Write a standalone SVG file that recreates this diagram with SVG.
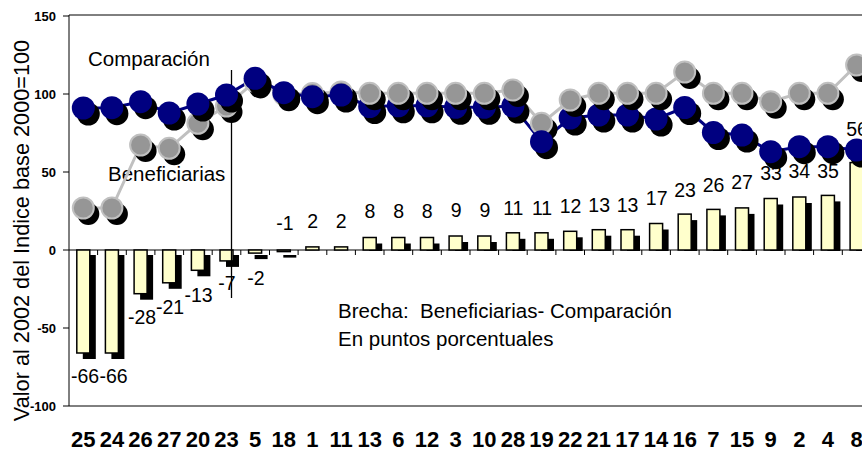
<svg xmlns="http://www.w3.org/2000/svg" width="862" height="451" viewBox="0 0 862 451">
<style>
.ax{stroke:#000;stroke-width:1;fill:none}
.yt{font-family:"Liberation Sans",Arial,sans-serif;font-weight:bold;font-size:13px;text-anchor:end}
.xt{font-family:"Liberation Sans",Arial,sans-serif;font-weight:bold;font-size:22px;text-anchor:middle}
.dl{font-family:"Liberation Sans",Arial,sans-serif;font-size:19.5px;text-anchor:middle;fill:#000}
.lb{font-family:"Liberation Sans",Arial,sans-serif;font-size:20.5px;fill:#000}
.bar{fill:#FFFFCC;stroke:#000;stroke-width:1.5}
.bs{fill:#000}
.sh{fill:#000}
.nv{fill:#000080}
.gr{fill:#969696;stroke:#C0C0C0;stroke-width:2}
.lnv{fill:none;stroke:#000080;stroke-width:3}
.lgr{fill:none;stroke:#C0C0C0;stroke-width:3}
</style>
<rect width="862" height="451" fill="#fff"/>
<g id="axes">
<path class="ax" d="M69 15H862M69 15V406H862M63 16H69M63 94H69M63 172H69M63 250H69M63 328H69M63 406H69M69 250H862"/>
<path class="ax" d="M97.6 250v5M126.3 250v5M154.9 250v5M183.6 250v5M212.2 250v5M240.8 250v5M269.5 250v5M298.1 250v5M326.8 250v5M355.4 250v5M384 250v5M412.7 250v5M441.3 250v5M470 250v5M498.6 250v5M527.2 250v5M555.9 250v5M584.5 250v5M613.2 250v5M641.8 250v5M670.4 250v5M699.1 250v5M727.7 250v5M756.4 250v5M785 250v5M813.6 250v5M842.3 250v5"/>
<text class="yt" x="56" y="20.5">150</text>
<text class="yt" x="56" y="98.5">100</text>
<text class="yt" x="56" y="176.5">50</text>
<text class="yt" x="56" y="254.5">0</text>
<text class="yt" x="56" y="332.5">-50</text>
<text class="yt" x="56" y="410.5">-100</text>
<text class="lb" style="font-size:21.7px" text-anchor="middle" transform="translate(28.5,230.5) rotate(-90)">Valor al 2002 del Indice base 2000=100</text>
</g>
<g id="x-labels">
<text class="xt" x="83.3" y="446.5">25</text>
<text class="xt" x="111.9" y="446.5">24</text>
<text class="xt" x="140.6" y="446.5">26</text>
<text class="xt" x="169.2" y="446.5">27</text>
<text class="xt" x="197.9" y="446.5">20</text>
<text class="xt" x="226.5" y="446.5">23</text>
<text class="xt" x="255.1" y="446.5">5</text>
<text class="xt" x="283.8" y="446.5">18</text>
<text class="xt" x="312.4" y="446.5">1</text>
<text class="xt" x="341.1" y="446.5">11</text>
<text class="xt" x="369.7" y="446.5">13</text>
<text class="xt" x="398.3" y="446.5">6</text>
<text class="xt" x="427" y="446.5">12</text>
<text class="xt" x="455.6" y="446.5">3</text>
<text class="xt" x="484.3" y="446.5">10</text>
<text class="xt" x="512.9" y="446.5">28</text>
<text class="xt" x="541.5" y="446.5">19</text>
<text class="xt" x="570.2" y="446.5">22</text>
<text class="xt" x="598.8" y="446.5">21</text>
<text class="xt" x="627.5" y="446.5">17</text>
<text class="xt" x="656.1" y="446.5">14</text>
<text class="xt" x="684.7" y="446.5">16</text>
<text class="xt" x="713.4" y="446.5">7</text>
<text class="xt" x="742" y="446.5">15</text>
<text class="xt" x="770.7" y="446.5">9</text>
<text class="xt" x="799.3" y="446.5">2</text>
<text class="xt" x="827.9" y="446.5">4</text>
<text class="xt" x="856.6" y="446.5">8</text>
</g>
<g id="bars">
<rect class="bs" x="82.8" y="255" width="13" height="104"/><rect class="bar" x="76.8" y="250" width="13" height="103"/>
<rect class="bs" x="111.4" y="255" width="13" height="104"/><rect class="bar" x="105.4" y="250" width="13" height="103"/>
<rect class="bs" x="140.1" y="255" width="13" height="44.7"/><rect class="bar" x="134.1" y="250" width="13" height="43.7"/>
<rect class="bs" x="168.7" y="255" width="13" height="33.8"/><rect class="bar" x="162.7" y="250" width="13" height="32.8"/>
<rect class="bs" x="197.4" y="255" width="13" height="21.3"/><rect class="bar" x="191.4" y="250" width="13" height="20.3"/>
<rect class="bs" x="226" y="255" width="13" height="11.9"/><rect class="bar" x="220" y="250" width="13" height="10.9"/>
<rect class="bs" x="254.6" y="255" width="13" height="4.1"/><rect class="bar" x="248.6" y="250" width="13" height="3.1"/>
<rect class="bs" x="283.3" y="255" width="13" height="2.6"/><rect class="bar" x="277.3" y="250" width="13" height="1.6"/>
<rect class="bar" x="305.9" y="246.9" width="13" height="3.1"/>
<rect class="bar" x="334.6" y="246.9" width="13" height="3.1"/>
<rect class="bs" x="369.2" y="243.5" width="13" height="7.5"/><rect class="bar" x="363.2" y="237.5" width="13" height="12.5"/>
<rect class="bs" x="397.8" y="243.5" width="13" height="7.5"/><rect class="bar" x="391.8" y="237.5" width="13" height="12.5"/>
<rect class="bs" x="426.5" y="243.5" width="13" height="7.5"/><rect class="bar" x="420.5" y="237.5" width="13" height="12.5"/>
<rect class="bs" x="455.1" y="242" width="13" height="9"/><rect class="bar" x="449.1" y="236" width="13" height="14"/>
<rect class="bs" x="483.8" y="242" width="13" height="9"/><rect class="bar" x="477.8" y="236" width="13" height="14"/>
<rect class="bs" x="512.4" y="238.8" width="13" height="12.2"/><rect class="bar" x="506.4" y="232.8" width="13" height="17.2"/>
<rect class="bs" x="541" y="238.8" width="13" height="12.2"/><rect class="bar" x="535" y="232.8" width="13" height="17.2"/>
<rect class="bs" x="569.7" y="237.3" width="13" height="13.7"/><rect class="bar" x="563.7" y="231.3" width="13" height="18.7"/>
<rect class="bs" x="598.3" y="235.7" width="13" height="15.3"/><rect class="bar" x="592.3" y="229.7" width="13" height="20.3"/>
<rect class="bs" x="627" y="235.7" width="13" height="15.3"/><rect class="bar" x="621" y="229.7" width="13" height="20.3"/>
<rect class="bs" x="655.6" y="229.5" width="13" height="21.5"/><rect class="bar" x="649.6" y="223.5" width="13" height="26.5"/>
<rect class="bs" x="684.2" y="220.1" width="13" height="30.9"/><rect class="bar" x="678.2" y="214.1" width="13" height="35.9"/>
<rect class="bs" x="712.9" y="215.4" width="13" height="35.6"/><rect class="bar" x="706.9" y="209.4" width="13" height="40.6"/>
<rect class="bs" x="741.5" y="213.9" width="13" height="37.1"/><rect class="bar" x="735.5" y="207.9" width="13" height="42.1"/>
<rect class="bs" x="770.2" y="204.5" width="13" height="46.5"/><rect class="bar" x="764.2" y="198.5" width="13" height="51.5"/>
<rect class="bs" x="798.8" y="203" width="13" height="48"/><rect class="bar" x="792.8" y="197" width="13" height="53"/>
<rect class="bs" x="827.4" y="201.4" width="13" height="49.6"/><rect class="bar" x="821.4" y="195.4" width="13" height="54.6"/>
<rect class="bs" x="856.1" y="168.6" width="13" height="82.4"/><rect class="bar" x="850.1" y="162.6" width="13" height="87.4"/>
</g>
<g id="data-labels">
<text class="dl" x="85" y="383">-66</text>
<text class="dl" x="113.5" y="383">-66</text>
<text class="dl" x="142" y="324">-28</text>
<text class="dl" x="170" y="314">-21</text>
<text class="dl" x="198.5" y="302">-13</text>
<text class="dl" x="227" y="290">-7</text>
<text class="dl" x="256" y="285">-2</text>
<text class="dl" x="285" y="230">-1</text>
<text class="dl" x="312.7" y="228">2</text>
<text class="dl" x="341.3" y="228">2</text>
<text class="dl" x="370" y="218">8</text>
<text class="dl" x="398.6" y="218">8</text>
<text class="dl" x="427.2" y="218">8</text>
<text class="dl" x="456.3" y="217">9</text>
<text class="dl" x="485" y="217">9</text>
<text class="dl" x="513.3" y="215">11</text>
<text class="dl" x="542" y="215">11</text>
<text class="dl" x="570.5" y="213">12</text>
<text class="dl" x="599.2" y="212">13</text>
<text class="dl" x="627.6" y="212">13</text>
<text class="dl" x="656.7" y="205">17</text>
<text class="dl" x="685" y="197">23</text>
<text class="dl" x="713.5" y="192">26</text>
<text class="dl" x="742" y="189">27</text>
<text class="dl" x="771" y="180">33</text>
<text class="dl" x="799.3" y="178">34</text>
<text class="dl" x="828" y="178">35</text>
<text class="dl" x="857" y="136">56</text>
</g>
<g id="labels">
<text class="lb" x="88" y="66">Comparación</text>
<text class="lb" x="108" y="181">Beneficiarias</text>
<text class="lb" x="338" y="318" xml:space="preserve">Brecha:  Beneficiarias- Comparación</text>
<text class="lb" x="338" y="346">En puntos porcentuales</text>
</g>
<g id="connectors">
<line x1="231.5" y1="70" x2="231.5" y2="298" stroke="#000" stroke-width="1.3"/>
<polyline class="lgr" points="83.3,208 111.9,208 140.6,145 169.2,148.3 197.9,123.3 226.5,106 255.1,81.4 283.8,94.3 312.4,93.6 341.1,91.9 369.7,93.3 398.3,93.3 427,93.3 455.6,93.3 484.3,93.3 512.9,90 541.5,123.3 570.2,100 598.8,93.3 627.5,93.3 656.1,93.3 684.7,72 713.4,93.3 742,93.3 770.7,101.7 799.3,93.3 827.9,93.3 856.6,65"/>
<polyline class="lnv" points="83.3,108 111.9,107.7 140.6,101.7 169.2,113 197.9,104 226.5,95 255.1,78.3 283.8,92.7 312.4,96.7 341.1,95 369.7,106.5 398.3,105.8 427,105.8 455.6,107.3 484.3,107.3 512.9,106 541.5,141.7 570.2,118 598.8,115 627.5,115 656.1,119 684.7,107.5 713.4,132.5 742,135 770.7,151.7 799.3,146.7 827.9,146.7 856.6,150"/>
</g>
<g id="markers">
<defs>
<circle id="sg" r="11" cx="5" cy="6" fill="#000"/>
<circle id="cg" r="10.5" class="gr"/>
<circle id="sn" r="11.5" cx="5" cy="6" fill="#000"/>
<circle id="cn" r="11.5" class="nv"/>
</defs>
<!-- cats 0-9: gray then navy on top -->
<g transform="translate(83.3,208)"><use href="#sg"/><use href="#cg"/></g><g transform="translate(83.3,108)"><use href="#sn"/><use href="#cn"/></g>
<g transform="translate(111.9,208)"><use href="#sg"/><use href="#cg"/></g><g transform="translate(111.9,107.7)"><use href="#sn"/><use href="#cn"/></g>
<g transform="translate(140.6,145)"><use href="#sg"/><use href="#cg"/></g><g transform="translate(140.6,101.7)"><use href="#sn"/><use href="#cn"/></g>
<g transform="translate(169.2,148.3)"><use href="#sg"/><use href="#cg"/></g><g transform="translate(169.2,113)"><use href="#sn"/><use href="#cn"/></g>
<g transform="translate(197.9,123.3)"><use href="#sg"/><use href="#cg"/></g><g transform="translate(197.9,104)"><use href="#sn"/><use href="#cn"/></g>
<g transform="translate(226.5,106)"><use href="#sg"/><use href="#cg"/></g><g transform="translate(226.5,95)"><use href="#sn"/><use href="#cn"/></g>
<g transform="translate(255.1,81.4)"><use href="#sg"/><use href="#cg"/></g><g transform="translate(255.1,78.3)"><use href="#sn"/><use href="#cn"/></g>
<g transform="translate(283.8,94.3)"><use href="#sg"/><use href="#cg"/></g><g transform="translate(283.8,92.7)"><use href="#sn"/><use href="#cn"/></g>
<g transform="translate(312.4,93.6)"><use href="#sg"/><use href="#cg"/></g><g transform="translate(312.4,96.7)"><use href="#sn"/><use href="#cn"/></g>
<g transform="translate(341.1,91.9)"><use href="#sg"/><use href="#cg"/></g><g transform="translate(341.1,95)"><use href="#sn"/><use href="#cn"/></g>
<!-- cats 10-27: navy then gray on top -->
<g transform="translate(369.7,106.5)"><use href="#sn"/><use href="#cn"/></g><g transform="translate(369.7,93.3)"><use href="#sg"/><use href="#cg"/></g>
<g transform="translate(398.3,105.8)"><use href="#sn"/><use href="#cn"/></g><g transform="translate(398.3,93.3)"><use href="#sg"/><use href="#cg"/></g>
<g transform="translate(427,105.8)"><use href="#sn"/><use href="#cn"/></g><g transform="translate(427,93.3)"><use href="#sg"/><use href="#cg"/></g>
<g transform="translate(455.6,107.3)"><use href="#sn"/><use href="#cn"/></g><g transform="translate(455.6,93.3)"><use href="#sg"/><use href="#cg"/></g>
<g transform="translate(484.3,107.3)"><use href="#sn"/><use href="#cn"/></g><g transform="translate(484.3,93.3)"><use href="#sg"/><use href="#cg"/></g>
<g transform="translate(512.9,106)"><use href="#sn"/><use href="#cn"/></g><g transform="translate(512.9,90)"><use href="#sg"/><use href="#cg"/></g>
<g transform="translate(541.5,123.3)"><use href="#sg"/><use href="#cg"/></g><g transform="translate(541.5,141.7)"><use href="#sn"/><use href="#cn"/></g>
<g transform="translate(570.2,118)"><use href="#sn"/><use href="#cn"/></g><g transform="translate(570.2,100)"><use href="#sg"/><use href="#cg"/></g>
<g transform="translate(598.8,115)"><use href="#sn"/><use href="#cn"/></g><g transform="translate(598.8,93.3)"><use href="#sg"/><use href="#cg"/></g>
<g transform="translate(627.5,115)"><use href="#sn"/><use href="#cn"/></g><g transform="translate(627.5,93.3)"><use href="#sg"/><use href="#cg"/></g>
<g transform="translate(656.1,119)"><use href="#sn"/><use href="#cn"/></g><g transform="translate(656.1,93.3)"><use href="#sg"/><use href="#cg"/></g>
<g transform="translate(684.7,107.5)"><use href="#sn"/><use href="#cn"/></g><g transform="translate(684.7,72)"><use href="#sg"/><use href="#cg"/></g>
<g transform="translate(713.4,132.5)"><use href="#sn"/><use href="#cn"/></g><g transform="translate(713.4,93.3)"><use href="#sg"/><use href="#cg"/></g>
<g transform="translate(742,135)"><use href="#sn"/><use href="#cn"/></g><g transform="translate(742,93.3)"><use href="#sg"/><use href="#cg"/></g>
<g transform="translate(770.7,151.7)"><use href="#sn"/><use href="#cn"/></g><g transform="translate(770.7,101.7)"><use href="#sg"/><use href="#cg"/></g>
<g transform="translate(799.3,146.7)"><use href="#sn"/><use href="#cn"/></g><g transform="translate(799.3,93.3)"><use href="#sg"/><use href="#cg"/></g>
<g transform="translate(827.9,146.7)"><use href="#sn"/><use href="#cn"/></g><g transform="translate(827.9,93.3)"><use href="#sg"/><use href="#cg"/></g>
<g transform="translate(856.6,150)"><use href="#sn"/><use href="#cn"/></g><g transform="translate(856.6,65)"><use href="#sg"/><use href="#cg"/></g>
</g>
</svg>
